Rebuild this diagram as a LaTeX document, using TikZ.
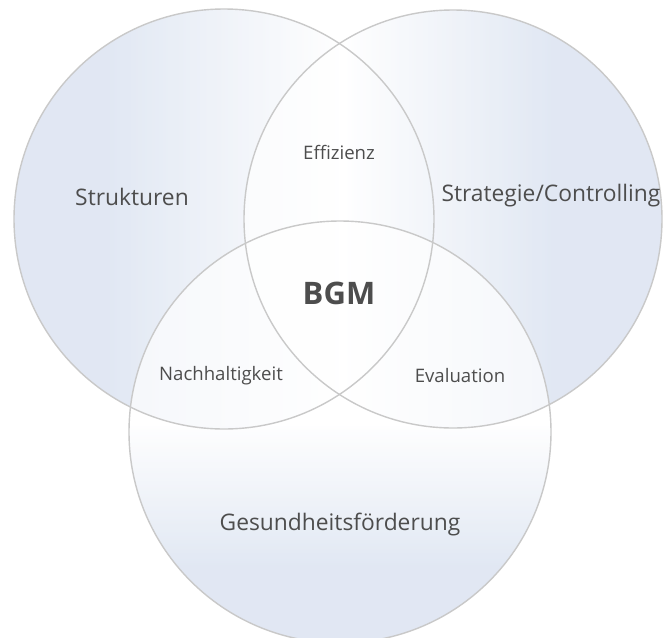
\documentclass[tikz,border=0pt]{standalone}
\usepackage{fontspec}
\setmainfont{Open Sans}
\definecolor{vblue}{HTML}{D3DDEE}
\definecolor{vline}{HTML}{C9C9C9}
\definecolor{vtext}{HTML}{4D4D4D}
\pgfdeclarehorizontalshading{lshade}{100bp}{color(0bp)=(vblue); color(36bp)=(vblue); color(64bp)=(white); color(100bp)=(white)}
\pgfdeclarehorizontalshading{rshade}{100bp}{color(0bp)=(white); color(37bp)=(white); color(62bp)=(vblue); color(100bp)=(vblue)}
\pgfdeclareverticalshading{bshade}{100bp}{color(0bp)=(vblue); color(34bp)=(vblue); color(51bp)=(white); color(100bp)=(white)}
\begin{document}
\begin{tikzpicture}[x=1pt,y=-1pt,
  circfill/.style={fill opacity=0.68},
  circline/.style={draw=vline,line width=1.4pt},
  biglabel/.style={text=vtext,font=\fontsize{22.8}{27}\selectfont,inner sep=0pt},
  smalllabel/.style={text=vtext,font=\fontsize{18.6}{22}\selectfont,inner sep=0pt},
  centerlabel/.style={text=vtext,font=\fontsize{31}{36}\selectfont\bfseries,inner sep=0pt}]
\useasboundingbox (0,0) rectangle (665,638);
\clip (0,0) rectangle (665,638);
\fill[white] (0,0) rectangle (665,638);
\coordinate (cl) at (224,219);
\coordinate (cr) at (453,219);
\coordinate (cb) at (340,432);
\shade[circfill,shading=lshade] (cl) circle[radius=210];
\shade[circfill,shading=rshade] (cr) circle[radius=209];
\shade[circfill,shading=bshade] (cb) circle[radius=211];
\draw[circline] (cl) circle[radius=210];
\draw[circline] (cr) circle[radius=209];
\draw[circline] (cb) circle[radius=211];
\node[biglabel] (struk) at (132,197) {Strukturen};
\node[biglabel] (strat) at (551,196) {Strategie/Controlling};
\node[biglabel] (gesund) at (340,525) {Gesundheitsförderung};
\node[smalllabel] (eff) at (339,152) {Effizienz};
\node[smalllabel] (nach) at (221,376) {Nachhaltigkeit};
\node[smalllabel] (eval) at (460,376) {Evaluation};
\node[centerlabel] (bgm) at (339,293) {BGM};
\end{tikzpicture}
\end{document}
